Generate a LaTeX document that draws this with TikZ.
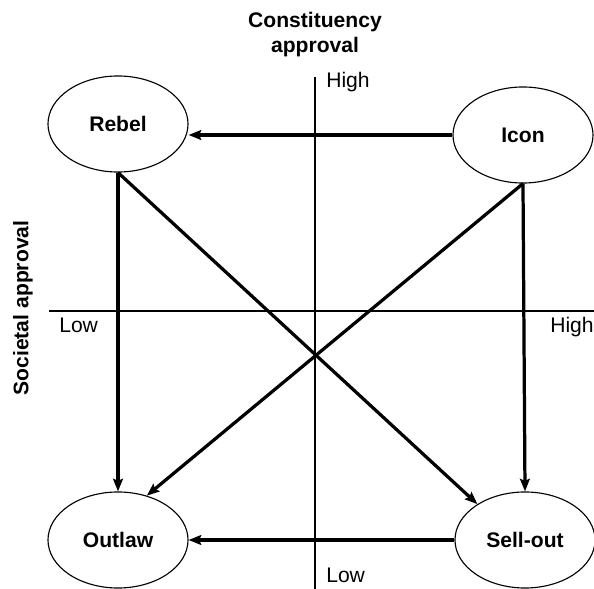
\documentclass[tikz,border=0pt]{standalone}
\usepackage{fontspec}
\setmainfont{Liberation Sans}
\usetikzlibrary{shapes.geometric,arrows.meta}

\begin{document}
\begin{tikzpicture}[
        x=0.025cm, y=-0.025cm,
        font=\fontsize{15}{17.7}\selectfont,
        role/.style={ellipse, draw, line width=0.8pt, inner sep=0pt,
                minimum width=3.5cm, minimum height=2.4cm, font=\fontsize{15}{17.7}\selectfont\bfseries},
        axis/.style={line width=0.8pt},
        arr/.style={line width=2.3pt, -{Stealth[length=9pt,width=7pt,inset=1.5pt]}},
        lbl/.style={inner sep=0pt, anchor=base west}
    ]
    \useasboundingbox (0,0) rectangle (594,589);

    % Axes
    \coordinate (ytop) at (315,77);
    \coordinate (ybot) at (315,589);
    \coordinate (xleft) at (49,311);
    \coordinate (xright) at (594,311);
    \draw[axis] (ytop) -- (ybot);
    \draw[axis] (xleft) -- (xright);

    \node[lbl] (yhigh) at (326,88) {High};
    \node[lbl] (ylow) at (326,583) {Low};
    \node[lbl] (xlow) at (59,333) {Low};
    \node[lbl] (xhigh) at (550,333) {High};

    \node[inner sep=0pt, anchor=north, align=center, font=\fontsize{15}{17.7}\selectfont\bfseries]
        (ytitle) at (315,12) {Constituency\\approval};
    \node[inner sep=0pt, rotate=90, font=\fontsize{15}{17.7}\selectfont\bfseries]
        (xtitle) at (23,308) {Societal approval};

    % Roles
    \node[role] (rebel) at (118,124) {Rebel};
    \node[role] (icon) at (523,135) {Icon};
    \node[role] (outlaw) at (118,540) {Outlaw};
    \node[role] (sellout) at (525,540) {Sell-out};

    % Moves
    \draw[arr] (icon.west) -- (icon.west -| rebel.east);
    \draw[arr] (sellout.west) -- (outlaw.east);
    \draw[arr] (rebel.south) -- (outlaw.north);
    \draw[arr] (icon.south) -- (sellout.north);
    \draw[arr] (rebel.south) -- (sellout.143);
    \draw[arr] (icon.south) -- (outlaw.57);
\end{tikzpicture}
\end{document}
